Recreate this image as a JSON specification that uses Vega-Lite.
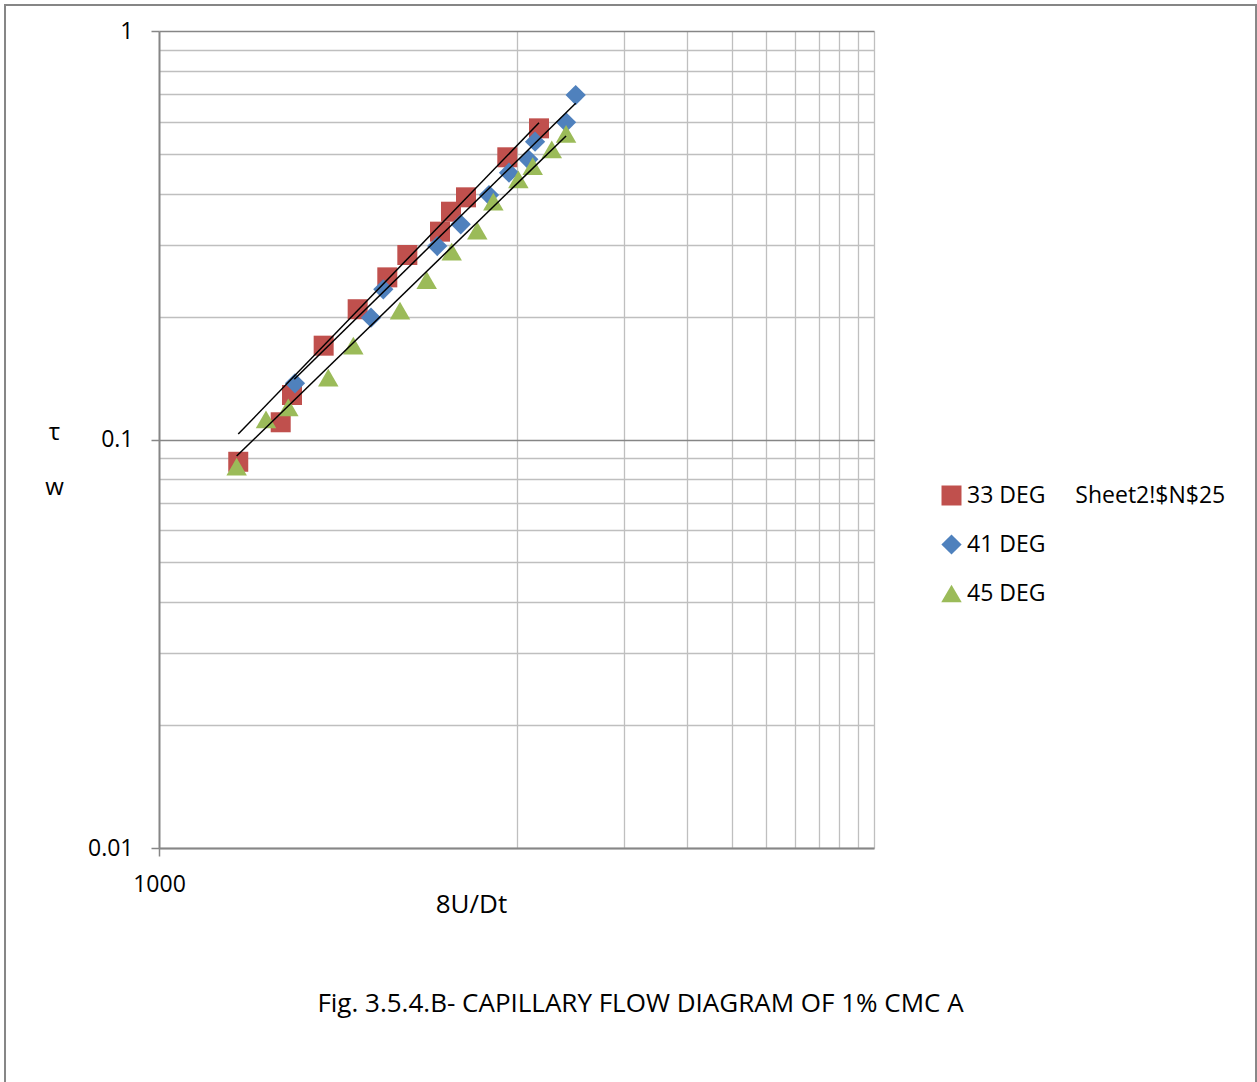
{
  "$schema": "https://vega.github.io/schema/vega-lite/v6.json",
  "width": 715,
  "height": 817,
  "autosize": {"type": "none"},
  "padding": {"left": 159, "top": 31, "right": 383, "bottom": 234},
  "background": "white",
  "config": {"font": "Open Sans", "view": {"stroke": null}},
  "title": {
    "text": "Fig. 3.5.4.B- CAPILLARY FLOW DIAGRAM OF 1% CMC A",
    "orient": "bottom",
    "anchor": "middle",
    "frame": "group",
    "dx": 124,
    "offset": -105,
    "fontSize": 26,
    "fontWeight": "normal",
    "color": "black"
  },
  "datasets": {
    "points": [
      {"series": "33 DEG", "x": 1666, "y": 0.0882},
      {"series": "33 DEG", "x": 2190, "y": 0.1102},
      {"series": "33 DEG", "x": 2355, "y": 0.1285},
      {"series": "33 DEG", "x": 2888, "y": 0.1697},
      {"series": "33 DEG", "x": 3595, "y": 0.2084},
      {"series": "33 DEG", "x": 4351, "y": 0.2494},
      {"series": "33 DEG", "x": 4950, "y": 0.2829},
      {"series": "33 DEG", "x": 6109, "y": 0.3227},
      {"series": "33 DEG", "x": 6558, "y": 0.3611},
      {"series": "33 DEG", "x": 7224, "y": 0.3916},
      {"series": "33 DEG", "x": 9425, "y": 0.4907},
      {"series": "33 DEG", "x": 11560, "y": 0.5777},
      {"series": "41 DEG", "x": 2401, "y": 0.1373},
      {"series": "41 DEG", "x": 3918, "y": 0.1987},
      {"series": "41 DEG", "x": 4241, "y": 0.2331},
      {"series": "41 DEG", "x": 6003, "y": 0.2976},
      {"series": "41 DEG", "x": 6982, "y": 0.3363},
      {"series": "41 DEG", "x": 8376, "y": 0.3967},
      {"series": "41 DEG", "x": 9529, "y": 0.4498},
      {"series": "41 DEG", "x": 10790, "y": 0.4852},
      {"series": "41 DEG", "x": 11270, "y": 0.5358},
      {"series": "41 DEG", "x": 13760, "y": 0.5975},
      {"series": "41 DEG", "x": 14640, "y": 0.697},
      {"series": "45 DEG", "x": 1649, "y": 0.0858},
      {"series": "45 DEG", "x": 1992, "y": 0.112},
      {"series": "45 DEG", "x": 2300, "y": 0.1199},
      {"series": "45 DEG", "x": 2975, "y": 0.1417},
      {"series": "45 DEG", "x": 3496, "y": 0.1697},
      {"series": "45 DEG", "x": 4722, "y": 0.2067},
      {"series": "45 DEG", "x": 5608, "y": 0.2457},
      {"series": "45 DEG", "x": 6588, "y": 0.2883},
      {"series": "45 DEG", "x": 7768, "y": 0.3245},
      {"series": "45 DEG", "x": 8614, "y": 0.3821},
      {"series": "45 DEG", "x": 10120, "y": 0.4335},
      {"series": "45 DEG", "x": 11100, "y": 0.4672},
      {"series": "45 DEG", "x": 12550, "y": 0.5132},
      {"series": "45 DEG", "x": 13760, "y": 0.5596}
    ],
    "trend": [
      {"series": "33 DEG", "x": 1666, "y": 0.1031},
      {"series": "33 DEG", "x": 11560, "y": 0.5963},
      {"series": "41 DEG", "x": 2390, "y": 0.1404},
      {"series": "41 DEG", "x": 14640, "y": 0.6653},
      {"series": "45 DEG", "x": 1649, "y": 0.0911},
      {"series": "45 DEG", "x": 13760, "y": 0.5533}
    ]
  },
  "layer": [
    {
      "data": {"values": [{"frame": "chart"}]},
      "mark": {"type": "rect", "fill": null, "stroke": "#868686", "strokeWidth": 2, "clip": false},
      "encoding": {
        "x": {"datum": 370.9, "type": "quantitative"},
        "x2": {"datum": 1171200},
        "y": {"datum": 1.1578, "type": "quantitative"},
        "y2": {"datum": 0.002485}
      }
    },
    {
      "data": {"name": "points"},
      "mark": {"type": "point", "filled": true, "opacity": 1, "strokeWidth": 0},
      "encoding": {
        "x": {
          "field": "x",
          "type": "quantitative",
          "scale": {"type": "log", "domain": [1000, 100000]},
          "axis": {
            "values": [1000, 10000, 20000, 30000, 40000, 50000, 60000, 70000, 80000, 90000, 100000],
            "labelExpr": "datum.value == 1000 ? '1000' : ''",
            "grid": true,
            "gridColor": {"condition": {"test": "datum.value == 1000", "value": "transparent"}, "value": "#BFBFBF"},
            "gridWidth": 1.3,
            "tickSize": 8,
            "tickColor": "#868686",
            "tickWidth": 1.5,
            "tickOpacity": {"condition": {"test": "datum.value == 1000", "value": 1}, "value": 0},
            "domainColor": "#868686",
            "domainWidth": 2,
            "labelFontSize": 23,
            "labelColor": "black",
            "labelPadding": 17,
            "labelOverlap": false,
            "labelFlush": false,
            "title": "8U/Dt",
            "titleFontSize": 26,
            "titleFontWeight": "normal",
            "titleColor": "black",
            "titleX": 312,
            "titleY": 56,
            "titleBaseline": "middle",
            "titleAlign": "center"
          }
        },
        "y": {
          "field": "y",
          "type": "quantitative",
          "scale": {"type": "log", "domain": [0.01, 1]},
          "axis": {
            "values": [0.01, 0.02, 0.03, 0.04, 0.05, 0.06, 0.07, 0.08, 0.09, 0.1, 0.2, 0.3, 0.4, 0.5, 0.6, 0.7, 0.8, 0.9, 1],
            "labelExpr": "datum.value == 1 ? '1' : datum.value == 0.1 ? '0.1' : datum.value == 0.01 ? '0.01' : ''",
            "grid": true,
            "gridColor": {"condition": {"test": "datum.value == 0.1 || datum.value == 1", "value": "#868686"}, "value": "#BFBFBF"},
            "gridWidth": 1.3,
            "tickSize": 8,
            "tickColor": "#868686",
            "tickWidth": 1.5,
            "tickOpacity": {"condition": {"test": "datum.value == 0.1 || datum.value == 1 || datum.value == 0.01", "value": 1}, "value": 0},
            "domainColor": "#868686",
            "domainWidth": 2,
            "labelFontSize": 23,
            "labelColor": "black",
            "labelPadding": 18,
            "labelOverlap": false,
            "labelFlush": false,
            "title": ["τ", "w"],
            "titleAngle": 0,
            "titleFontSize": 24,
            "titleFontWeight": "normal",
            "titleColor": "black",
            "titleLineHeight": 55,
            "titleX": -105,
            "titleY": 401,
            "titleBaseline": "middle",
            "titleAlign": "center"
          }
        },
        "color": {
          "field": "series",
          "type": "nominal",
          "scale": {"domain": ["33 DEG", "41 DEG", "45 DEG"], "range": ["#C0504D", "#4F81BD", "#9BBB59"]},
          "legend": {
            "orient": "none",
            "legendX": 781,
            "legendY": 453,
            "padding": 0,
            "title": null,
            "labelFontSize": 23,
            "labelColor": "black",
            "labelLimit": 0,
            "labelOffset": 4,
            "symbolSize": 324,
            "symbolStrokeWidth": 0,
            "rowPadding": 25,
            "labelExpr": "datum.label == '33 DEG' ? '33 DEG\u00a0\u00a0\u00a0\u00a0\u00a0Sheet2!$N$25' : datum.label"
          }
        },
        "shape": {
          "field": "series",
          "type": "nominal",
          "scale": {"domain": ["33 DEG", "41 DEG", "45 DEG"], "range": ["square", "diamond", "triangle-up"]}
        },
        "size": {
          "field": "series",
          "type": "ordinal",
          "scale": {"domain": ["33 DEG", "41 DEG", "45 DEG"], "range": [400, 420, 520]},
          "legend": null
        }
      }
    },
    {
      "data": {"name": "trend"},
      "mark": {"type": "line", "color": "black", "strokeWidth": 1.5},
      "encoding": {
        "x": {"field": "x", "type": "quantitative"},
        "y": {"field": "y", "type": "quantitative"},
        "detail": {"field": "series", "type": "nominal"}
      }
    }
  ]
}
